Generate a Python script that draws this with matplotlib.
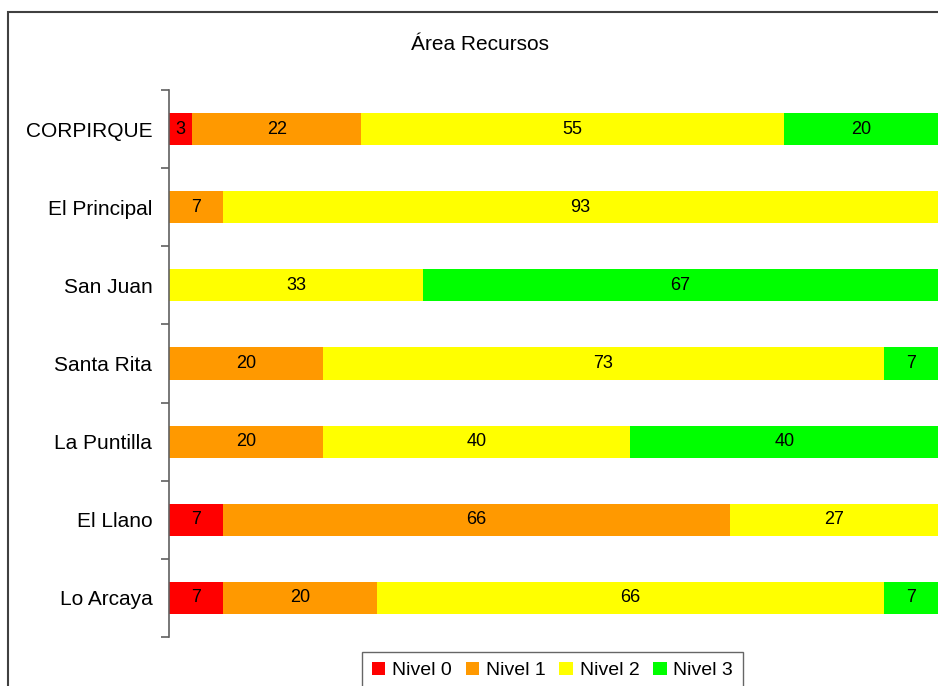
import matplotlib
matplotlib.use('Agg')
import matplotlib.pyplot as plt
from matplotlib.patches import Rectangle
import numpy as np

plt.rcParams['font.family'] = ['Liberation Sans', 'DejaVu Sans']

categories = ['CORPIRQUE', 'El Principal', 'San Juan', 'Santa Rita',
              'La Puntilla', 'El Llano', 'Lo Arcaya']
series_names = ['Nivel 0', 'Nivel 1', 'Nivel 2', 'Nivel 3']
nivel0 = [3, 0, 0, 0, 0, 7, 7]
nivel1 = [22, 7, 0, 20, 20, 66, 20]
nivel2 = [55, 93, 33, 73, 40, 27, 66]
nivel3 = [20, 0, 67, 7, 40, 0, 7]
colors = ['#FF0000', '#FF9900', '#FFFF00', '#00FF00']

W, H = 938, 686
fig = plt.figure(figsize=(W / 100, H / 100), dpi=100)

# outer chart border (cut off at right and bottom)
fig.add_artist(Rectangle((8 / W, -0.1), 1.2, 1 - 12 / H + 0.1,
                         transform=fig.transFigure, fill=False,
                         edgecolor='#404040', linewidth=1.5))

ax = fig.add_axes([169 / W, 1 - 637 / H, 1 - 169 / W, (637 - 90) / H])

y = np.arange(len(categories))
left = np.zeros(len(categories))
for name, vals, col in zip(series_names, [nivel0, nivel1, nivel2, nivel3], colors):
    vals = np.array(vals, dtype=float)
    bars = ax.barh(y, vals, left=left, height=0.41, color=col, label=name)
    for b, v in zip(bars, vals):
        if v > 0:
            ax.text(b.get_x() + b.get_width() / 2, b.get_y() + b.get_height() / 2,
                    '%d' % v, ha='center', va='center', fontsize=13, color='black')
    left += vals

ax.set_xlim(0, 100)
ax.set_ylim(len(categories) - 0.5, -0.5)
ax.set_yticks(y)
ax.set_yticklabels(categories, fontsize=15)
ax.set_yticks(np.arange(-0.5, len(categories)), minor=True)
ax.tick_params(axis='y', which='major', length=0, pad=12)
ax.tick_params(axis='y', which='minor', length=6, width=1.2, color='#606060')
ax.set_xticks([])
for s in ['top', 'right', 'bottom']:
    ax.spines[s].set_visible(False)
ax.spines['left'].set_color('#606060')
ax.spines['left'].set_linewidth(1.2)

fig.text(480 / W, 1 - 45 / H, 'Área Recursos', ha='center', va='center', fontsize=15)

leg = fig.legend(loc='upper left', bbox_to_anchor=(362 / W, 1 - 652 / H), ncol=4,
                 fontsize=14, frameon=True, fancybox=False, handlelength=0.7,
                 handleheight=0.7, handletextpad=0.35, columnspacing=0.7,
                 borderpad=0.5, borderaxespad=0)
leg.get_frame().set_edgecolor('#404040')
leg.get_frame().set_linewidth(1.0)

fig.savefig('out.png', dpi=100)
